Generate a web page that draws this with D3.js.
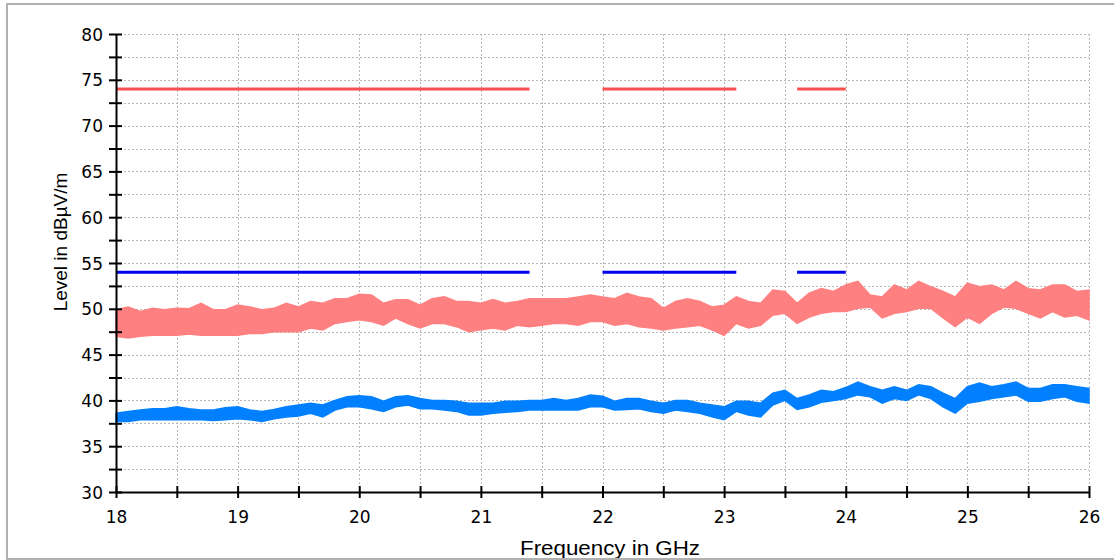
<!DOCTYPE html>
<html><head><meta charset="utf-8">
<script src="https://cdn.jsdelivr.net/npm/d3@7"></script>
<style>html,body{margin:0;padding:0;background:#fff;}svg{display:block;}</style>
</head><body>
<script>
// ---- data ----
const freqs = [18.0,18.1,18.2,18.3,18.4,18.5,18.6,18.7,18.8,18.9,
19.0,19.1,19.2,19.3,19.4,19.5,19.6,19.7,19.8,19.9,
20.0,20.1,20.2,20.3,20.4,20.5,20.6,20.7,20.8,20.9,
21.0,21.1,21.2,21.3,21.4,21.5,21.6,21.7,21.8,21.9,
22.0,22.1,22.2,22.3,22.4,22.5,22.6,22.7,22.8,22.9,
23.0,23.1,23.2,23.3,23.4,23.5,23.6,23.7,23.8,23.9,
24.0,24.1,24.2,24.3,24.4,24.5,24.6,24.7,24.8,24.9,
25.0,25.1,25.2,25.3,25.4,25.5,25.6,25.7,25.8,25.9,26.0];
const peakHigh = [49.9,50.2,49.7,50.05,49.9,50.05,50.0,50.6,49.9,49.9,
50.4,50.2,49.9,50.05,50.6,50.2,50.8,50.6,51.1,51.1,
51.6,51.5,50.6,51.0,51.0,50.4,51.1,51.3,50.8,50.8,
50.6,51.0,50.6,50.8,51.1,51.1,51.1,51.1,51.3,51.5,
51.3,51.1,51.7,51.3,51.1,50.05,50.8,51.1,50.8,50.2,
50.4,51.3,50.8,50.6,52.05,51.9,50.6,51.7,52.2,51.9,
52.6,53.0,51.5,51.3,52.6,52.05,53.0,52.4,51.9,51.3,
52.8,52.4,52.6,52.05,53.0,52.2,52.05,52.6,52.6,51.9,52.05];
const peakLow = [47.0,46.8,47.0,47.1,47.1,47.1,47.25,47.1,47.1,47.1,
47.1,47.3,47.3,47.5,47.5,47.5,47.9,47.7,48.4,48.6,
48.8,48.6,48.2,49.0,48.4,47.9,48.4,48.4,48.05,47.5,
47.7,47.9,47.7,48.2,48.05,48.2,48.4,48.4,48.2,48.6,
48.6,48.2,48.4,48.05,47.9,47.7,47.9,48.05,48.2,47.7,
47.1,48.4,47.9,48.2,49.3,49.5,48.4,49.1,49.5,49.7,
49.7,50.05,50.2,49.0,49.5,49.7,50.05,50.05,49.0,48.05,
49.1,48.4,49.5,50.2,50.05,49.5,49.0,49.7,49.1,49.3,48.8];
const avgHigh = [38.6,38.8,38.95,39.1,39.1,39.3,39.1,38.95,38.95,39.2,
39.3,38.95,38.8,39.0,39.3,39.5,39.7,39.5,40.0,40.4,
40.5,40.4,39.9,40.4,40.5,40.2,40.0,40.0,39.9,39.7,
39.7,39.7,39.9,39.9,40.0,40.0,40.2,40.0,40.2,40.6,
40.45,39.9,40.2,40.2,39.9,39.7,40.0,40.0,39.7,39.5,
39.3,39.9,39.9,39.7,40.8,41.1,40.2,40.6,41.1,40.95,
41.4,42.0,41.5,41.1,41.5,41.1,41.7,41.5,40.8,40.2,
41.5,41.9,41.5,41.7,42.0,41.3,41.3,41.7,41.7,41.5,41.3];
const avgLow = [37.7,37.7,37.9,37.9,37.9,37.9,37.9,37.9,37.8,37.9,
38.0,37.9,37.7,38.0,38.2,38.3,38.6,38.2,38.95,39.3,
39.3,39.1,38.8,39.3,39.5,39.1,39.1,38.95,38.8,38.4,
38.4,38.6,38.7,38.8,38.95,38.95,38.95,38.95,38.95,39.3,
39.3,38.95,39.0,39.1,38.8,38.6,38.95,38.8,38.6,38.2,
37.9,38.8,38.4,38.2,39.5,40.0,39.0,39.3,39.8,40.0,
40.2,40.6,40.4,39.7,40.2,40.0,40.6,40.2,39.3,38.6,
39.7,39.9,40.2,40.4,40.6,39.9,39.9,40.2,40.4,39.9,39.7];
const limitStart = [18.0, 22.0, 23.6];
const limitEnd   = [21.4, 23.1, 24.0];
const peakLimit = 74;
const avgLimit = 54;
const xTickLabels = [18,19,20,21,22,23,24,25,26];
const yTickLabels = [30,35,40,45,50,55,60,65,70,75,80];
const xTitle = "Frequency in GHz";
const yTitle = "Level in dBµV/m";

// ---- layout ----
const W = 1114, H = 560;
const L = 116, R = 1089, T = 34, B = 492;
const svg = d3.select("body").append("svg").attr("width", W).attr("height", H);
const x = d3.scaleLinear().domain([18, 26]).range([L, R]);
const y = d3.scaleLinear().domain([30, 80]).range([B, T]);
const font = "'DejaVu Sans', sans-serif";

// grid
const gridX = d3.range(18.5, 26.01, 0.5);
const gridY = d3.range(32.5, 80.01, 2.5);
const g = svg.append("g").attr("stroke", "#b8b8b8").attr("stroke-width", 1).attr("stroke-dasharray", "2,2");
g.selectAll("line.gx").data(gridX).join("line").attr("class","gx")
  .attr("x1", d => Math.round(x(d)) + 0.5).attr("x2", d => Math.round(x(d)) + 0.5)
  .attr("y1", T).attr("y2", B);
g.selectAll("line.gy").data(gridY).join("line").attr("class","gy")
  .attr("y1", d => Math.round(y(d)) + 0.5).attr("y2", d => Math.round(y(d)) + 0.5)
  .attr("x1", L).attr("x2", R);

// traces
const data = freqs.map((f, i) => ({f, ph: peakHigh[i], pl: peakLow[i], ah: avgHigh[i], al: avgLow[i]}));
const peakArea = d3.area().x(d => x(d.f)).y0(d => y(d.pl)).y1(d => y(d.ph));
const avgArea = d3.area().x(d => x(d.f)).y0(d => y(d.al)).y1(d => y(d.ah));
svg.append("path").datum(data).attr("d", peakArea).attr("fill", "#ff8080").attr("stroke", "#ff8080").attr("stroke-width", 1.5);
svg.append("path").datum(data).attr("d", avgArea).attr("fill", "#0080ff").attr("stroke", "#0080ff").attr("stroke-width", 1.5);

// limit lines
const segs = limitStart.map((s, i) => ({s, e: limitEnd[i]}));
svg.selectAll("line.pl").data(segs).join("line").attr("class","pl")
  .attr("x1", d => x(d.s)).attr("x2", d => x(d.e))
  .attr("y1", y(peakLimit)).attr("y2", y(peakLimit))
  .attr("stroke", "#ff5050").attr("stroke-width", 3);
svg.selectAll("line.al").data(segs).join("line").attr("class","al")
  .attr("x1", d => x(d.s)).attr("x2", d => x(d.e))
  .attr("y1", y(avgLimit)).attr("y2", y(avgLimit))
  .attr("stroke", "#0000ee").attr("stroke-width", 3);

// axes
const xAxis = d3.axisBottom(x).tickValues(d3.range(18, 26.01, 0.5))
  .tickSizeInner(6).tickSizeOuter(0)
  .tickFormat(d => xTickLabels.includes(d) ? String(d) : "");
const gx = svg.append("g").attr("transform", `translate(0,${B})`).call(xAxis);
gx.select(".domain").attr("stroke", "#000").attr("stroke-width", 2);
gx.selectAll(".tick line").attr("stroke", "#000").attr("stroke-width", 2).attr("y1", -6).attr("y2", 6);
gx.selectAll(".tick text").attr("font-family", font).attr("font-size", 17).attr("fill", "#000")
  .attr("dy", null).attr("y", 31);

const yAxis = d3.axisLeft(y).tickValues(d3.range(30, 80.01, 2.5))
  .tickSizeInner(7).tickSizeOuter(0)
  .tickFormat(d => yTickLabels.includes(d) ? String(d) : "");
const gy = svg.append("g").attr("transform", `translate(${L},0)`).call(yAxis);
gy.select(".domain").attr("stroke", "#000").attr("stroke-width", 2);
gy.selectAll(".tick line").attr("stroke", "#000").attr("stroke-width", 2).attr("x1", -7).attr("x2", 6);
gy.selectAll(".tick text").attr("font-family", font).attr("font-size", 17).attr("fill", "#000")
  .attr("x", -13).attr("dy", "0.36em");

// titles
svg.append("text").attr("x", 610).attr("y", 555).attr("text-anchor", "middle")
  .attr("font-family", "'Liberation Sans', Arial, sans-serif").attr("font-size", 20)
  .attr("textLength", 180).attr("lengthAdjust", "spacingAndGlyphs").attr("fill", "#000").text(xTitle);
svg.append("text").attr("transform", `translate(67,242) rotate(-90)`).attr("text-anchor", "middle")
  .attr("font-family", "'Liberation Sans', Arial, sans-serif").attr("font-size", 19)
  .attr("fill", "#000").text(yTitle);

// frame
svg.append("rect").attr("x", 7).attr("y", 4).attr("width", W + 20).attr("height", 555)
  .attr("fill", "none").attr("stroke", "#b0b0b0").attr("stroke-width", 2);
</script>
</body></html>
